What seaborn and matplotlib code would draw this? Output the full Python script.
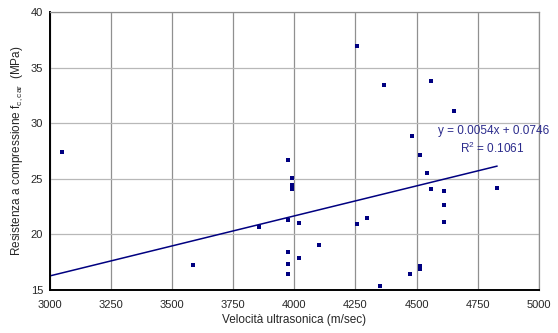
import numpy as np
import pandas as pd
import matplotlib
matplotlib.use("Agg")
import matplotlib.pyplot as plt
import seaborn as sns

# data
velocita = [3048, 3584, 3857, 3975, 3975, 3975, 3975, 3975, 3989, 3989, 3989, 3989,
            4019, 4019, 4102, 4255, 4255, 4297, 4350, 4368, 4473, 4481, 4514, 4514,
            4514, 4543, 4558, 4558, 4613, 4613, 4613, 4653, 4830]
resistenza = [27.44, 17.21, 20.72, 26.70, 21.29, 18.38, 17.32, 16.45, 25.10, 24.50, 24.29, 24.06,
              21.08, 17.84, 19.04, 36.96, 20.93, 21.53, 15.34, 33.45, 16.45, 28.83, 27.12, 17.14,
              16.90, 25.55, 33.81, 24.11, 23.96, 22.64, 21.17, 31.08, 24.23]
slope = 0.0054
intercept = 0.0746
r2 = 0.1061

df = pd.DataFrame({"v": velocita, "f": resistenza})

sns.set_style("white")
plt.rcParams["font.family"] = ["Liberation Sans", "DejaVu Sans"]
plt.rcParams["mathtext.fontset"] = "custom"
plt.rcParams["mathtext.rm"] = "Liberation Sans"

fig = plt.figure(figsize=(5.58, 3.33), dpi=100)
ax = fig.add_axes([0.0896, 0.129, 0.8758, 0.834])

navy = "#000080"
sns.scatterplot(data=df, x="v", y="f", marker="s", s=9, color=navy,
                edgecolor=navy, linewidth=0, ax=ax, zorder=3)

# linear trendline (Excel style)
xs = np.array([3000, max(velocita)])
ax.plot(xs, slope * xs + intercept, color=navy, lw=1.1, zorder=2)

ax.set_xlim(3000, 5000)
ax.set_ylim(15, 40)
ax.set_xticks(np.arange(3000, 5001, 250))
ax.set_yticks(np.arange(15, 41, 5))
ax.grid(axis="x", color="#909090", lw=0.9)
ax.grid(axis="y", color="#b8b8b8", lw=0.9)
ax.set_axisbelow(True)

for side in ["top", "right"]:
    ax.spines[side].set_color("#909090")
    ax.spines[side].set_linewidth(0.9)
for side in ["left", "bottom"]:
    ax.spines[side].set_color("black")
    ax.spines[side].set_linewidth(1.4)

ax.tick_params(axis="both", labelsize=8, length=3, width=1, color="black",
               direction="out", pad=2)
ax.tick_params(axis="x", pad=4)

ax.set_xlabel("Velocità ultrasonica (m/sec)", fontsize=8.5, labelpad=3)
ax.set_ylabel("Resistenza a compressione f$_{\\mathrm{c,car}}$  (MPa)", fontsize=8.5, labelpad=4)

ax.text(549 / 558, 1 - 131 / 333, f"y = {slope}x + {intercept}", transform=fig.transFigure,
        ha="right", va="center", color="#2b2b8c", fontsize=8.5)
ax.text(492 / 558, 1 - 148 / 333, f"R$^2$ = {r2}", transform=fig.transFigure,
        ha="center", va="center", color="#2b2b8c", fontsize=8.5)

fig.savefig("out.png", dpi=100)
